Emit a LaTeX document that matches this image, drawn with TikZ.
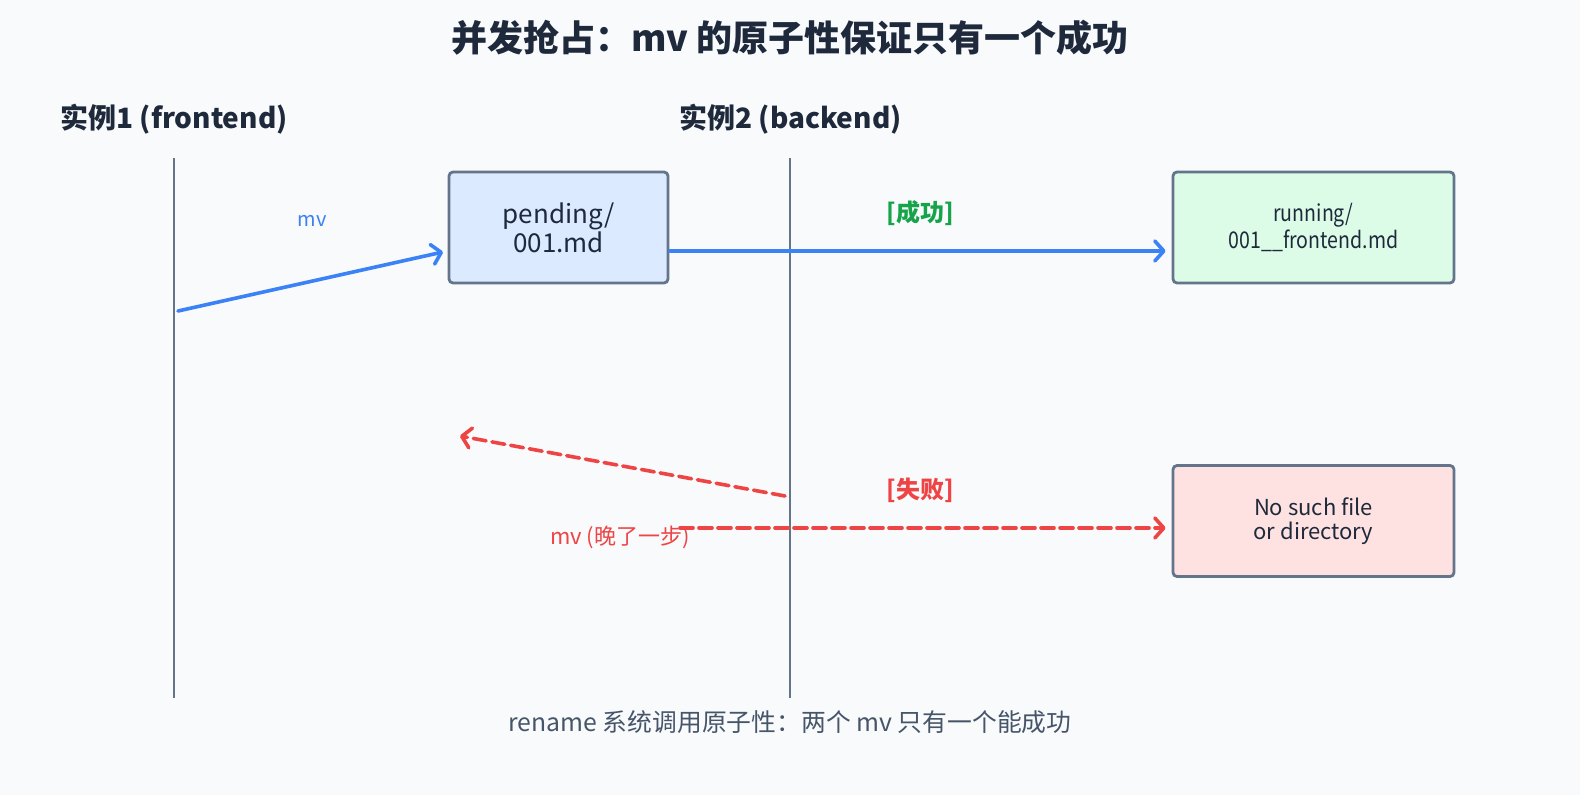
\documentclass[tikz,border=0pt]{standalone}
\usepackage{fontspec}
\setmainfont{Noto Sans CJK SC}
\usepackage{graphicx}
\usetikzlibrary{arrows.meta,positioning}

\definecolor{bgc}{HTML}{F8FAFC}
\definecolor{ink}{HTML}{1E293B}
\definecolor{slate}{HTML}{64748B}
\definecolor{capc}{HTML}{475569}
\definecolor{okblue}{HTML}{3B82F6}
\definecolor{okgreen}{HTML}{16A34A}
\definecolor{badred}{HTML}{EF4444}
\definecolor{pendfill}{HTML}{DBEAFE}
\definecolor{runfill}{HTML}{DCFCE7}
\definecolor{failfill}{HTML}{FEE2E2}

\begin{document}
\begin{tikzpicture}[x=0.5pt,y=-0.5pt,
    filebox/.style={draw=slate,line width=1.4pt,rounded corners=2pt,align=center,
      text=ink,inner sep=0pt,minimum height=55.5pt},
    lifeline/.style={draw=slate,line width=1.25pt},
    okarrow/.style={draw=okblue,line width=1.8pt,line cap=round,
      -{Straight Barb[length=4.5pt,width=10pt,round]}},
    badarrow/.style={draw=badred,line width=1.8pt,line cap=round,dash pattern=on 6.5pt off 3pt,
      -{Straight Barb[length=4.5pt,width=10pt,round]}}]
    \fill[bgc](0,0)rectangle(1580,795);
    \useasboundingbox(0,0)rectangle(1580,795);

    % title and lanes
    \node[text=ink,font=\bfseries\fontsize{18}{22}\selectfont](title)at(790,38){并发抢占：mv 的原子性保证只有一个成功};
    \node[anchor=west,text=ink,font=\bfseries\fontsize{14}{18}\selectfont,inner sep=0pt](lane1)at(60,119){实例1 (frontend)};
    \node[anchor=west,text=ink,font=\bfseries\fontsize{14}{18}\selectfont,inner sep=0pt](lane2)at(679,119){实例2 (backend)};

    \coordinate(l1top)at(174,158); \coordinate(l1bot)at(174,698);
    \coordinate(l2top)at(790,158); \coordinate(l2bot)at(790,698);
    \draw[lifeline](l1top)--(l1bot);
    \draw[lifeline](l2top)--(l2bot);

    % file boxes
    \node[filebox,fill=pendfill,minimum width=109.5pt,font=\fontsize{13}{13.5}\selectfont](pend)at(558.5,227.5){pending/\\001.md};
    \node[filebox,fill=runfill,minimum width=140.5pt,font=\fontsize{11.5}{12}\selectfont](run)at(1313.5,227.5){\scalebox{0.85}[1]{running/}\\\scalebox{0.85}[1]{001\_\_frontend.md}};
    \node[filebox,fill=failfill,minimum width=140.5pt,font=\fontsize{11}{12}\selectfont](fail)at(1313.5,521){No such file\\or directory};

    % success path
    \coordinate(mvstart)at(178,311);
    \coordinate(mvend)at(443,252);
    \draw[okarrow](mvstart)--(mvend);
    \node[text=okblue,font=\fontsize{10}{12}\selectfont](mvlab)at(312,221){mv};
    \coordinate(okstart)at(670,251);
    \draw[okarrow,shorten >=3pt](okstart)--(okstart-|run.west);
    \node[text=okgreen,font=\bfseries\fontsize{12}{14}\selectfont](oklab)at(920,213){[成功]};

    % failure path
    \coordinate(latestart)at(785,496);
    \coordinate(lateend)at(460,436);
    \draw[badarrow](latestart)--(lateend);
    \coordinate(failstart)at(680,528);
    \draw[badarrow,shorten >=3pt](failstart)--(failstart-|fail.west);
    \node[text=badred,font=\bfseries\fontsize{12}{14}\selectfont](badlab)at(920,490){[失败]};
    \node[text=badred,font=\fontsize{11}{13}\selectfont](latelab)at(620,537){mv (晚了一步)};

    % caption
    \node[text=capc,font=\fontsize{12.4}{14}\selectfont](caption)at(790,722){rename 系统调用原子性：两个 mv 只有一个能成功};
\end{tikzpicture}
\end{document}
